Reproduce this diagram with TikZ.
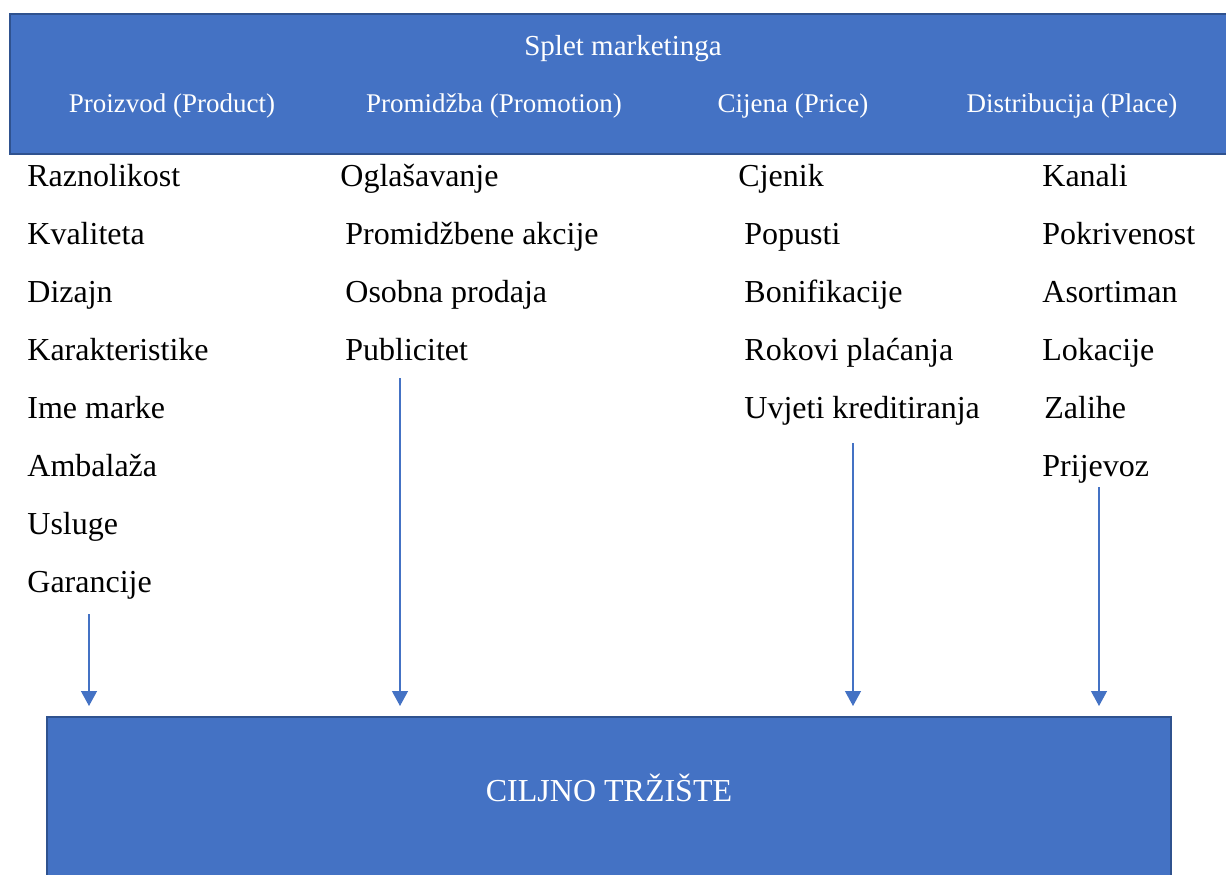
\documentclass[tikz,border=0pt]{standalone}
\usepackage{fontspec}
\setmainfont{Liberation Serif}
\usetikzlibrary{arrows.meta}

\definecolor{boxfill}{HTML}{4472C4}
\definecolor{boxline}{HTML}{2F528F}

\tikzset{
  bluebox/.style={fill=boxfill,draw=boxline,line width=0.9pt},
  item/.style={anchor=base west,inner sep=0pt,font=\fontsize{16}{19}\selectfont},
  head/.style={anchor=base,inner sep=0pt,text=white,font=\fontsize{13.5}{16}\selectfont},
  toarrow/.style={draw=boxfill,line width=0.6pt,-{Triangle[width=8pt,length=7.5pt]}}
}

\begin{document}
\begin{tikzpicture}[x=0.5pt,y=-0.5pt]
\useasboundingbox (0,0) rectangle (1226,874);

% top box
\draw[bluebox] (10,14) rectangle (1240,154);
\node[head,font=\fontsize{14.5}{17}\selectfont] (splet) at (623,55) {Splet marketinga};
\node[head] (hprod) at (172,112) {Proizvod (Product)};
\node[head] (hprom) at (494,112) {Promidžba (Promotion)};
\node[head] (hprice) at (793,112) {Cijena (Price)};
\node[head] (hplace) at (1072,112) {Distribucija (Place)};

% proizvod
\node[item] (p1) at (27,186) {Raznolikost};
\node[item] (p2) at (27,244) {Kvaliteta};
\node[item] (p3) at (27,302) {Dizajn};
\node[item] (p4) at (27,360) {Karakteristike};
\node[item] (p5) at (27,418) {Ime marke};
\node[item] (p6) at (27,476) {Ambalaža};
\node[item] (p7) at (27,534) {Usluge};
\node[item] (p8) at (27,592) {Garancije};

% promidzba
\node[item] (m1) at (340,186) {Oglašavanje};
\node[item] (m2) at (345,244) {Promidžbene akcije};
\node[item] (m3) at (345,302) {Osobna prodaja};
\node[item] (m4) at (345,360) {Publicitet};

% cijena
\node[item] (c1) at (738,186) {Cjenik};
\node[item] (c2) at (744,244) {Popusti};
\node[item] (c3) at (744,302) {Bonifikacije};
\node[item] (c4) at (744,360) {Rokovi plaćanja};
\node[item] (c5) at (744,418) {Uvjeti kreditiranja};

% distribucija
\node[item] (d1) at (1042,186) {Kanali};
\node[item] (d2) at (1042,244) {Pokrivenost};
\node[item] (d3) at (1042,302) {Asortiman};
\node[item] (d4) at (1042,360) {Lokacije};
\node[item] (d5) at (1044,418) {Zalihe};
\node[item] (d6) at (1042,476) {Prijevoz};

% bottom box
\draw[bluebox] (47,717) rectangle (1171,900);
\node[head,font=\fontsize{16}{19}\selectfont] (trziste) at (609,801) {CILJNO TRŽIŠTE};

\coordinate (sprod) at (89,614);
\coordinate (eprod) at (89,706);
\coordinate (sprom) at (400,378);
\coordinate (eprom) at (400,706);
\coordinate (sprice) at (853,443);
\coordinate (eprice) at (853,706);
\coordinate (splace) at (1099,487);
\coordinate (eplace) at (1099,706);

\draw[toarrow] (sprod) -- (eprod);
\draw[toarrow] (sprom) -- (eprom);
\draw[toarrow] (sprice) -- (eprice);
\draw[toarrow] (splace) -- (eplace);

\end{tikzpicture}
\end{document}
